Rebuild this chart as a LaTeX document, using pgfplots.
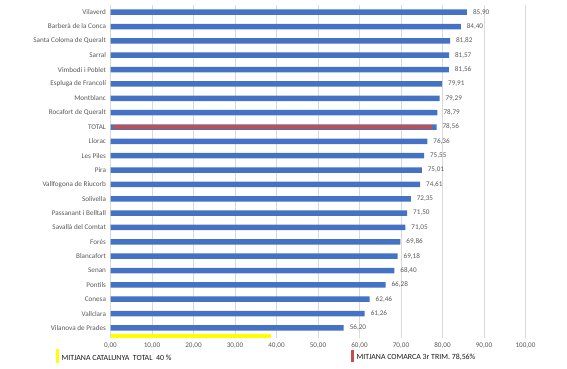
\documentclass[border=0pt]{standalone}
\usepackage{pgfplots}
\pgfplotsset{compat=1.18}
\usepackage{fontspec}
\setmainfont{Carlito}
\definecolor{barblue}{RGB}{68,114,196}
\definecolor{barred}{RGB}{192,80,77}
\definecolor{lblgray}{RGB}{89,89,89}
\definecolor{gridgray}{RGB}{217,217,217}
\definecolor{ylw}{RGB}{255,255,0}
\begin{document}
\begin{tikzpicture}
\useasboundingbox (0,0) rectangle (567bp,369bp);
\pgfkeys{/pgf/number format/.cd, fixed, fixed zerofill, precision=2, use comma, assume math mode=true}
\begin{axis}[
  at={(110.5bp,31bp)}, anchor=south west,
  scale only axis, width=415bp, height=333bp,
  xmin=0, xmax=100, ymin=-0.7, ymax=22.5,
  xtick={0,10,...,100},
  ytick={0,...,22},
  yticklabels={Vilanova de Prades,Vallclara,Conesa,Pontils,Senan,Blancafort,Forès,Savallà del Comtat,Passanant i Belltall,Solivella,Vallfogona de Riucorb,Pira,Les Piles,Llorac,TOTAL,Rocafort de Queralt,Montblanc,Espluga de Francolí,Vimbodí i Poblet,Sarral,Santa Coloma de Queralt,Barberà de la Conca,Vilaverd},
  xmajorgrids, grid style={draw=gridgray, line width=0.7pt},
  axis line style={draw=none},
  tick style={draw=none},
  ticklabel style={font=\fontsize{7.2}{8}\selectfont, text=lblgray},
  xticklabel style={yshift=-1bp},
  yticklabel style={xshift=-1bp},
  clip=false,
]
\addplot[xbar, bar width=5.5bp, fill=barblue, draw=none,
  nodes near coords,
  nodes near coords style={font=\fontsize{7.2}{8}\selectfont, text=lblgray, anchor=west, xshift=2.5bp}]
  coordinates {
  (56.20,0) (61.26,1) (62.46,2) (66.28,3) (68.40,4) (69.18,5) (69.86,6)
  (71.05,7) (71.50,8) (72.35,9) (74.61,10) (75.01,11) (75.55,12) (76.36,13)
  (78.56,14) (78.79,15) (79.29,16) (79.91,17) (81.56,18) (81.57,19)
  (81.82,20) (84.40,21) (85.90,22)};
\addplot[barred, line width=4bp, sharp plot, mark=none] coordinates {(0.6,14) (77.5,14)};
\addplot[ylw, line width=4.5bp, sharp plot, mark=none] coordinates {(0,-0.56) (38.7,-0.56)};
\end{axis}
\node[anchor=west, inner sep=0pt, font=\fontsize{7.9}{9}\selectfont, text=black!90] at (55.5bp,13bp)
  {\textcolor{ylw}{\rule[-3bp]{3bp}{14bp}}\hspace{3bp}MITJANA CATALUNYA\ \ TOTAL\ \ 40 \%};
\node[anchor=west, inner sep=0pt, font=\fontsize{7.9}{9}\selectfont, text=black!90] at (350.5bp,13bp)
  {\textcolor{barred}{\rule[-3bp]{3bp}{12bp}}\hspace{3bp}MITJANA COMARCA 3r TRIM. 78,56\%};
\end{tikzpicture}
\end{document}
